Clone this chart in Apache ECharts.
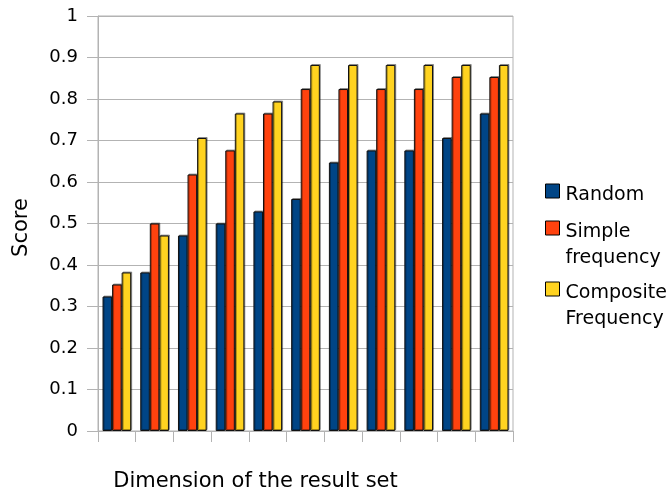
<!DOCTYPE html>
<html><head><meta charset="utf-8">
<script src="https://cdn.jsdelivr.net/npm/echarts@6/dist/echarts.min.js"></script>
<style>html,body{margin:0;padding:0;background:#fff}#c{width:668px;height:497px}</style>
</head><body><div id="c"></div>
<script>
const categories = ['1','2','3','4','5','6','7','8','9','10','11'];
const seriesNames = ['Random','Simple frequency','Composite Frequency'];
const legendLabels = ['Random','Simple\nfrequency','Composite\nFrequency'];
const randomVals = [0.324,0.382,0.471,0.5,0.529,0.559,0.647,0.676,0.676,0.706,0.765];
const simpleVals = [0.353,0.5,0.618,0.676,0.765,0.824,0.824,0.824,0.824,0.853,0.853];
const compositeVals = [0.382,0.471,0.706,0.765,0.794,0.882,0.882,0.882,0.882,0.882,0.882];
const yTicks = [0,0.1,0.2,0.3,0.4,0.5,0.6,0.7,0.8,0.9,1];
const colors = ['#004586','#ff420e','#ffd320'];

const FONT = 'DejaVu Sans';
const chart = echarts.init(document.getElementById('c'), null, {renderer:'canvas'});
const seriesData = [randomVals, simpleVals, compositeVals];
const LH = 26;
function iconPath(h){ return 'path://M0,0L14,0L14,14L0,14Z M7,' + h + 'L7,' + h; }
function mkLegend(i, top, h){
  return {
    show:true, orient:'vertical', left:540, top:top,
    data:[seriesNames[i]],
    itemWidth:14, itemHeight:h,
    icon: iconPath(h),
    formatter: () => legendLabels[i],
    selectedMode:false,
    itemStyle:{borderColor:'#000', borderWidth:1},
    textStyle:{fontFamily:FONT, fontSize:19, color:'#000', lineHeight:LH, padding:[0,0,0,1]}
  };
}
chart.setOption({
  animation:false,
  color: colors,
  grid:{left:98, right:155, top:16, bottom:56, show:true, borderColor:'#b3b3b3', borderWidth:1},
  legend:[mkLegend(0,177,22), mkLegend(1,214.5,49), mkLegend(2,275.5,49)],
  xAxis:{
    type:'category', data:categories,
    name:'Dimension of the result set', nameLocation:'middle', nameGap:40,
    nameTextStyle:{fontFamily:FONT, fontSize:21, color:'#000', padding:[0,100,0,0]},
    axisLine:{show:true, lineStyle:{color:'#b3b3b3', width:1}},
    axisTick:{show:true, length:11, lineStyle:{color:'#b3b3b3'}},
    axisLabel:{show:false},
    splitLine:{show:false}
  },
  yAxis:{
    type:'value', min:0, max:1, interval:0.1,
    name:'Score', nameLocation:'middle', nameGap:66,
    nameTextStyle:{fontFamily:FONT, fontSize:21, color:'#000', padding:[0,8,0,0]},
    axisLine:{show:true, lineStyle:{color:'#b3b3b3', width:1}},
    axisTick:{show:true, length:11, lineStyle:{color:'#b3b3b3'}},
    axisLabel:{fontFamily:FONT, fontSize:18, color:'#000', margin:20,
      formatter: v => { const t = yTicks.find(x => Math.abs(x-v)<1e-9); return t===undefined ? '' : String(t); }},
    splitLine:{show:true, lineStyle:{color:'#b3b3b3', width:1}}
  },
  series: seriesNames.map((n,i)=>({
    name:n, type:'bar', data:seriesData[i],
    barGap:'0%', barCategoryGap:'24%',
    itemStyle:{color:colors[i], borderColor:'#111', borderWidth:1,
      shadowColor:'rgba(0,0,0,0.35)', shadowOffsetX:1, shadowOffsetY:-1, shadowBlur:0}
  }))
});
</script></body></html>
